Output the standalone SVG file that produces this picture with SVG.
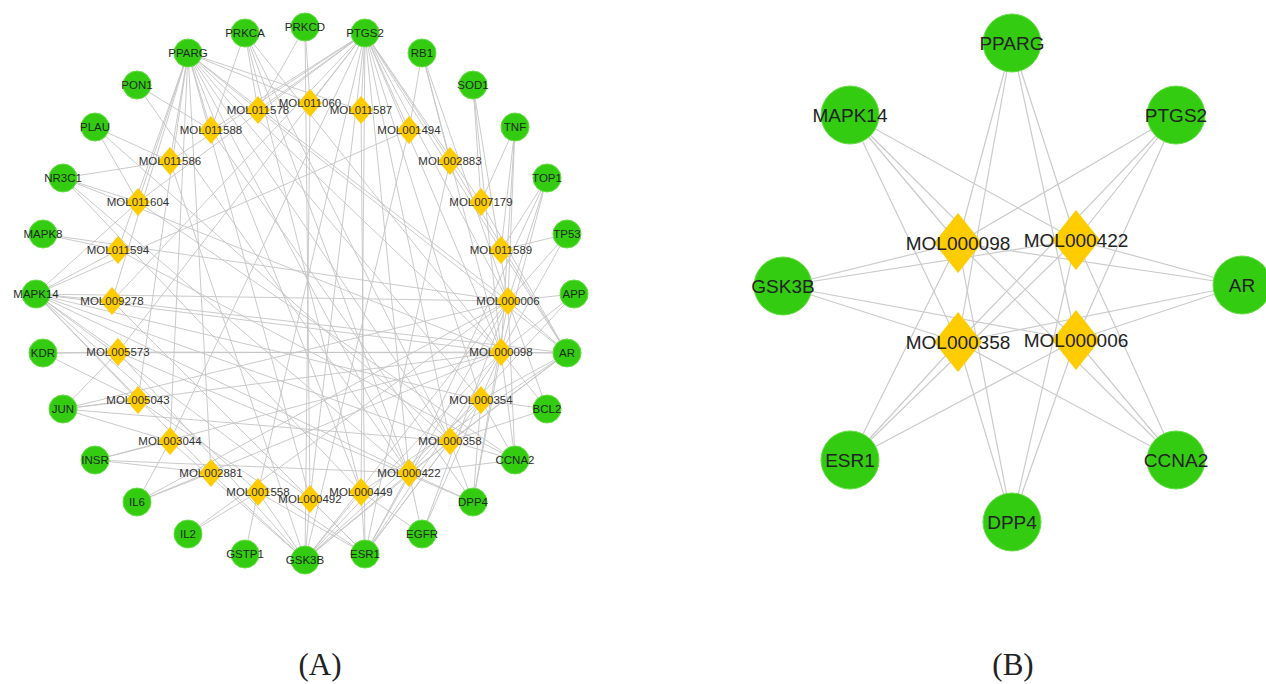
<svg xmlns="http://www.w3.org/2000/svg" xmlns:xlink="http://www.w3.org/1999/xlink" width="1266" height="684" viewBox="0 0 1266 684">
<style>
.e{fill:none;stroke:#c4c4c4;stroke-width:0.9}
.eb{fill:none;stroke:#cbcbcb;stroke-width:1.2}
.g{fill:#33cc11;stroke:#66dd44;stroke-width:1}
.d{fill:#ffcc00}
.la{font-family:"Liberation Sans",Arial,sans-serif;font-size:11.5px;fill:#333;text-anchor:middle}
.lg{font-family:"Liberation Sans",Arial,sans-serif;font-size:11.5px;fill:#1c2a1c;text-anchor:middle}
.lb{font-family:"Liberation Sans",Arial,sans-serif;font-size:19px;fill:#222;text-anchor:middle}
.cap{font-family:"Liberation Serif","Times New Roman",serif;font-size:31px;fill:#222;text-anchor:middle}
</style>
<defs>
<polygon id="da" points="0,-14 12,0 0,14 -12,0"/>
<polygon id="db" points="0,-30 24,0 0,30 -24,0"/>
</defs>
<rect width="1266" height="684" fill="#fff"/>
<g id="edges-a">
<path class="e" d="M501 352L188 53M501 352L365 33M501 352L567 353M501 352L515 460M501 352L473 502M501 352L365 554M501 352L305 560M501 352L36 294M501 352L515 127M501 352L567 234M501 352L63 409M501 352L137 502M501 352L422 534M501 352L547 409M501 352L422 53M501 352L473 85M501 352L547 178M501 352L43 353M501 352L95 460M501 352L245 33M501 352L63 178M501 352L574 294"/>
<path class="e" d="M508 301L188 53M508 301L365 33M508 301L567 353M508 301L515 460M508 301L473 502M508 301L365 554M508 301L305 560M508 301L36 294M508 301L574 294M508 301L515 127M508 301L567 234M508 301L547 178M508 301L422 53M508 301L473 85M508 301L547 409M508 301L63 409M508 301L137 502M508 301L422 534M508 301L43 234M508 301L188 534"/>
<path class="e" d="M409 473L188 53M409 473L365 33M409 473L567 353M409 473L515 460M409 473L473 502M409 473L365 554M409 473L305 560M409 473L36 294M409 473L63 178M409 473L137 85M409 473L245 33M409 473L547 178M409 473L422 534M409 473L95 460M409 473L574 294"/>
<path class="e" d="M450 441L188 53M450 441L365 33M450 441L567 353M450 441L515 460M450 441L473 502M450 441L365 554M450 441L305 560M450 441L36 294M450 441L547 409M450 441L63 409M450 441L245 33M450 441L95 127"/>
<path class="e" d="M481 400L365 33M481 400L567 353M481 400L365 554M481 400L305 560M481 400L36 294M481 400L473 502M481 400L188 53M481 400L547 409M481 400L515 460"/>
<path class="e" d="M361 492L365 33M361 492L567 353M361 492L365 554M361 492L305 560M361 492L188 53M361 492L245 33M361 492L63 178M361 492L422 534"/>
<path class="e" d="M310 499L365 33M310 499L365 554M310 499L305 560M310 499L36 294M310 499L188 53M310 499L305 27"/>
<path class="e" d="M258 492L365 33M258 492L305 560M258 492L365 554M258 492L245 554M258 492L188 534M258 492L36 294"/>
<path class="e" d="M211 473L305 560M211 473L137 502M211 473L95 460M211 473L188 53M211 473L36 294"/>
<path class="e" d="M170 441L365 33M170 441L95 460M170 441L137 502M170 441L63 409M170 441L188 53M170 441L305 560"/>
<path class="e" d="M138 400L63 409M138 400L36 294M138 400L365 554M138 400L43 353M138 400L188 53"/>
<path class="e" d="M118 352L365 33M118 352L43 353M118 352L36 294M118 352L567 353M118 352L305 560M118 352L473 502M118 352L63 409"/>
<path class="e" d="M112 301L365 33M112 301L36 294M112 301L567 353M112 301L188 53M112 301L365 554"/>
<path class="e" d="M118 250L43 234M118 250L36 294M118 250L188 53M118 250L515 460"/>
<path class="e" d="M138 202L365 33M138 202L188 53M138 202L95 127M138 202L63 178M138 202L36 294M138 202L515 460"/>
<path class="e" d="M170 161L365 33M170 161L63 178M170 161L188 53M170 161L95 127M170 161L305 560"/>
<path class="e" d="M211 130L365 33M211 130L188 53M211 130L245 33M211 130L137 85M211 130L473 502"/>
<path class="e" d="M258 110L365 33M258 110L188 53M258 110L245 33M258 110L305 27M258 110L567 353"/>
<path class="e" d="M310 103L365 33M310 103L305 27M310 103L188 53M310 103L305 560"/>
<path class="e" d="M361 110L365 33M361 110L188 53M361 110L365 554"/>
<path class="e" d="M409 130L365 33M409 130L422 53M409 130L305 560M409 130L36 294"/>
<path class="e" d="M450 161L365 33M450 161L422 53M450 161L567 353M450 161L365 554"/>
<path class="e" d="M481 202L365 33M481 202L473 85M481 202L515 127M481 202L567 353"/>
<path class="e" d="M501 250L365 33M501 250L515 127M501 250L547 178M501 250L567 353M501 250L567 234"/>
</g>
<g id="edges-b">
<path class="eb" d="M958 243L1012 43M958 243L1176 115M958 243L1242 285M958 243L1176 460M958 243L1012 522M958 243L850 460M958 243L783 286M958 243L850 115"/>
<path class="eb" d="M1076 240L1012 43M1076 240L1176 115M1076 240L1242 285M1076 240L1176 460M1076 240L1012 522M1076 240L850 460M1076 240L783 286M1076 240L850 115"/>
<path class="eb" d="M958 342L1012 43M958 342L1176 115M958 342L1242 285M958 342L1176 460M958 342L1012 522M958 342L850 460M958 342L783 286M958 342L850 115"/>
<path class="eb" d="M1076 340L1012 43M1076 340L1176 115M1076 340L1242 285M1076 340L1176 460M1076 340L1012 522M1076 340L850 460M1076 340L783 286M1076 340L850 115"/>
</g>
<g id="nodes-a-targets">
<g id="a-APP"><circle class="g" cx="574" cy="294" r="14"/><text class="lg" x="574" y="298">APP</text></g>
<g id="a-AR"><circle class="g" cx="567" cy="353" r="14"/><text class="lg" x="567" y="357">AR</text></g>
<g id="a-BCL2"><circle class="g" cx="547" cy="409" r="14"/><text class="lg" x="547" y="413">BCL2</text></g>
<g id="a-CCNA2"><circle class="g" cx="515" cy="460" r="14"/><text class="lg" x="515" y="464">CCNA2</text></g>
<g id="a-DPP4"><circle class="g" cx="473" cy="502" r="14"/><text class="lg" x="473" y="506">DPP4</text></g>
<g id="a-EGFR"><circle class="g" cx="422" cy="534" r="14"/><text class="lg" x="422" y="538">EGFR</text></g>
<g id="a-ESR1"><circle class="g" cx="365" cy="554" r="14"/><text class="lg" x="365" y="558">ESR1</text></g>
<g id="a-GSK3B"><circle class="g" cx="305" cy="560" r="14"/><text class="lg" x="305" y="564">GSK3B</text></g>
<g id="a-GSTP1"><circle class="g" cx="245" cy="554" r="14"/><text class="lg" x="245" y="558">GSTP1</text></g>
<g id="a-IL2"><circle class="g" cx="188" cy="534" r="14"/><text class="lg" x="188" y="538">IL2</text></g>
<g id="a-IL6"><circle class="g" cx="137" cy="502" r="14"/><text class="lg" x="137" y="506">IL6</text></g>
<g id="a-INSR"><circle class="g" cx="95" cy="460" r="14"/><text class="lg" x="95" y="464">INSR</text></g>
<g id="a-JUN"><circle class="g" cx="63" cy="409" r="14"/><text class="lg" x="63" y="413">JUN</text></g>
<g id="a-KDR"><circle class="g" cx="43" cy="353" r="14"/><text class="lg" x="43" y="357">KDR</text></g>
<g id="a-MAPK14"><circle class="g" cx="36" cy="294" r="14"/><text class="lg" x="36" y="298">MAPK14</text></g>
<g id="a-MAPK8"><circle class="g" cx="43" cy="234" r="14"/><text class="lg" x="43" y="238">MAPK8</text></g>
<g id="a-NR3C1"><circle class="g" cx="63" cy="178" r="14"/><text class="lg" x="63" y="182">NR3C1</text></g>
<g id="a-PLAU"><circle class="g" cx="95" cy="127" r="14"/><text class="lg" x="95" y="131">PLAU</text></g>
<g id="a-PON1"><circle class="g" cx="137" cy="85" r="14"/><text class="lg" x="137" y="89">PON1</text></g>
<g id="a-PPARG"><circle class="g" cx="188" cy="53" r="14"/><text class="lg" x="188" y="57">PPARG</text></g>
<g id="a-PRKCA"><circle class="g" cx="245" cy="33" r="14"/><text class="lg" x="245" y="37">PRKCA</text></g>
<g id="a-PRKCD"><circle class="g" cx="305" cy="27" r="14"/><text class="lg" x="305" y="31">PRKCD</text></g>
<g id="a-PTGS2"><circle class="g" cx="365" cy="33" r="14"/><text class="lg" x="365" y="37">PTGS2</text></g>
<g id="a-RB1"><circle class="g" cx="422" cy="53" r="14"/><text class="lg" x="422" y="57">RB1</text></g>
<g id="a-SOD1"><circle class="g" cx="473" cy="85" r="14"/><text class="lg" x="473" y="89">SOD1</text></g>
<g id="a-TNF"><circle class="g" cx="515" cy="127" r="14"/><text class="lg" x="515" y="131">TNF</text></g>
<g id="a-TOP1"><circle class="g" cx="547" cy="178" r="14"/><text class="lg" x="547" y="182">TOP1</text></g>
<g id="a-TP53"><circle class="g" cx="567" cy="234" r="14"/><text class="lg" x="567" y="238">TP53</text></g>
</g>
<g id="nodes-a-compounds">
<g id="a-MOL000006"><use href="#da" xlink:href="#da" class="d" x="508" y="301"/><text class="la" x="508" y="305">MOL000006</text></g>
<g id="a-MOL000098"><use href="#da" xlink:href="#da" class="d" x="501" y="352"/><text class="la" x="501" y="356">MOL000098</text></g>
<g id="a-MOL000354"><use href="#da" xlink:href="#da" class="d" x="481" y="400"/><text class="la" x="481" y="404">MOL000354</text></g>
<g id="a-MOL000358"><use href="#da" xlink:href="#da" class="d" x="450" y="441"/><text class="la" x="450" y="445">MOL000358</text></g>
<g id="a-MOL000422"><use href="#da" xlink:href="#da" class="d" x="409" y="473"/><text class="la" x="409" y="477">MOL000422</text></g>
<g id="a-MOL000449"><use href="#da" xlink:href="#da" class="d" x="361" y="492"/><text class="la" x="361" y="496">MOL000449</text></g>
<g id="a-MOL000492"><use href="#da" xlink:href="#da" class="d" x="310" y="499"/><text class="la" x="310" y="503">MOL000492</text></g>
<g id="a-MOL001558"><use href="#da" xlink:href="#da" class="d" x="258" y="492"/><text class="la" x="258" y="496">MOL001558</text></g>
<g id="a-MOL002881"><use href="#da" xlink:href="#da" class="d" x="211" y="473"/><text class="la" x="211" y="477">MOL002881</text></g>
<g id="a-MOL003044"><use href="#da" xlink:href="#da" class="d" x="170" y="441"/><text class="la" x="170" y="445">MOL003044</text></g>
<g id="a-MOL005043"><use href="#da" xlink:href="#da" class="d" x="138" y="400"/><text class="la" x="138" y="404">MOL005043</text></g>
<g id="a-MOL005573"><use href="#da" xlink:href="#da" class="d" x="118" y="352"/><text class="la" x="118" y="356">MOL005573</text></g>
<g id="a-MOL009278"><use href="#da" xlink:href="#da" class="d" x="112" y="301"/><text class="la" x="112" y="305">MOL009278</text></g>
<g id="a-MOL011594"><use href="#da" xlink:href="#da" class="d" x="118" y="250"/><text class="la" x="118" y="254">MOL011594</text></g>
<g id="a-MOL011604"><use href="#da" xlink:href="#da" class="d" x="138" y="202"/><text class="la" x="138" y="206">MOL011604</text></g>
<g id="a-MOL011586"><use href="#da" xlink:href="#da" class="d" x="170" y="161"/><text class="la" x="170" y="165">MOL011586</text></g>
<g id="a-MOL011588"><use href="#da" xlink:href="#da" class="d" x="211" y="130"/><text class="la" x="211" y="134">MOL011588</text></g>
<g id="a-MOL011578"><use href="#da" xlink:href="#da" class="d" x="258" y="110"/><text class="la" x="258" y="114">MOL011578</text></g>
<g id="a-MOL011060"><use href="#da" xlink:href="#da" class="d" x="310" y="103"/><text class="la" x="310" y="107">MOL011060</text></g>
<g id="a-MOL011587"><use href="#da" xlink:href="#da" class="d" x="361" y="110"/><text class="la" x="361" y="114">MOL011587</text></g>
<g id="a-MOL001494"><use href="#da" xlink:href="#da" class="d" x="409" y="130"/><text class="la" x="409" y="134">MOL001494</text></g>
<g id="a-MOL002883"><use href="#da" xlink:href="#da" class="d" x="450" y="161"/><text class="la" x="450" y="165">MOL002883</text></g>
<g id="a-MOL007179"><use href="#da" xlink:href="#da" class="d" x="481" y="202"/><text class="la" x="481" y="206">MOL007179</text></g>
<g id="a-MOL011589"><use href="#da" xlink:href="#da" class="d" x="501" y="250"/><text class="la" x="501" y="254">MOL011589</text></g>
</g>
<g id="nodes-b">
<g id="b-PPARG"><circle class="g" cx="1012" cy="43" r="29"/><text class="lb" x="1012" y="50">PPARG</text></g>
<g id="b-PTGS2"><circle class="g" cx="1176" cy="115" r="29"/><text class="lb" x="1176" y="122">PTGS2</text></g>
<g id="b-AR"><circle class="g" cx="1242" cy="285" r="29"/><text class="lb" x="1242" y="292">AR</text></g>
<g id="b-CCNA2"><circle class="g" cx="1176" cy="460" r="29"/><text class="lb" x="1176" y="467">CCNA2</text></g>
<g id="b-DPP4"><circle class="g" cx="1012" cy="522" r="29"/><text class="lb" x="1012" y="529">DPP4</text></g>
<g id="b-ESR1"><circle class="g" cx="850" cy="460" r="29"/><text class="lb" x="850" y="467">ESR1</text></g>
<g id="b-GSK3B"><circle class="g" cx="783" cy="286" r="29"/><text class="lb" x="783" y="293">GSK3B</text></g>
<g id="b-MAPK14"><circle class="g" cx="850" cy="115" r="29"/><text class="lb" x="850" y="122">MAPK14</text></g>
<g id="b-MOL000098"><use href="#db" xlink:href="#db" class="d" x="958" y="243"/><text class="lb" x="958" y="250">MOL000098</text></g>
<g id="b-MOL000422"><use href="#db" xlink:href="#db" class="d" x="1076" y="240"/><text class="lb" x="1076" y="247">MOL000422</text></g>
<g id="b-MOL000358"><use href="#db" xlink:href="#db" class="d" x="958" y="342"/><text class="lb" x="958" y="349">MOL000358</text></g>
<g id="b-MOL000006"><use href="#db" xlink:href="#db" class="d" x="1076" y="340"/><text class="lb" x="1076" y="347">MOL000006</text></g>
</g>
<g id="captions">
<text class="cap" x="320" y="675">(A)</text>
<text class="cap" x="1013" y="675">(B)</text>
</g>
</svg>
